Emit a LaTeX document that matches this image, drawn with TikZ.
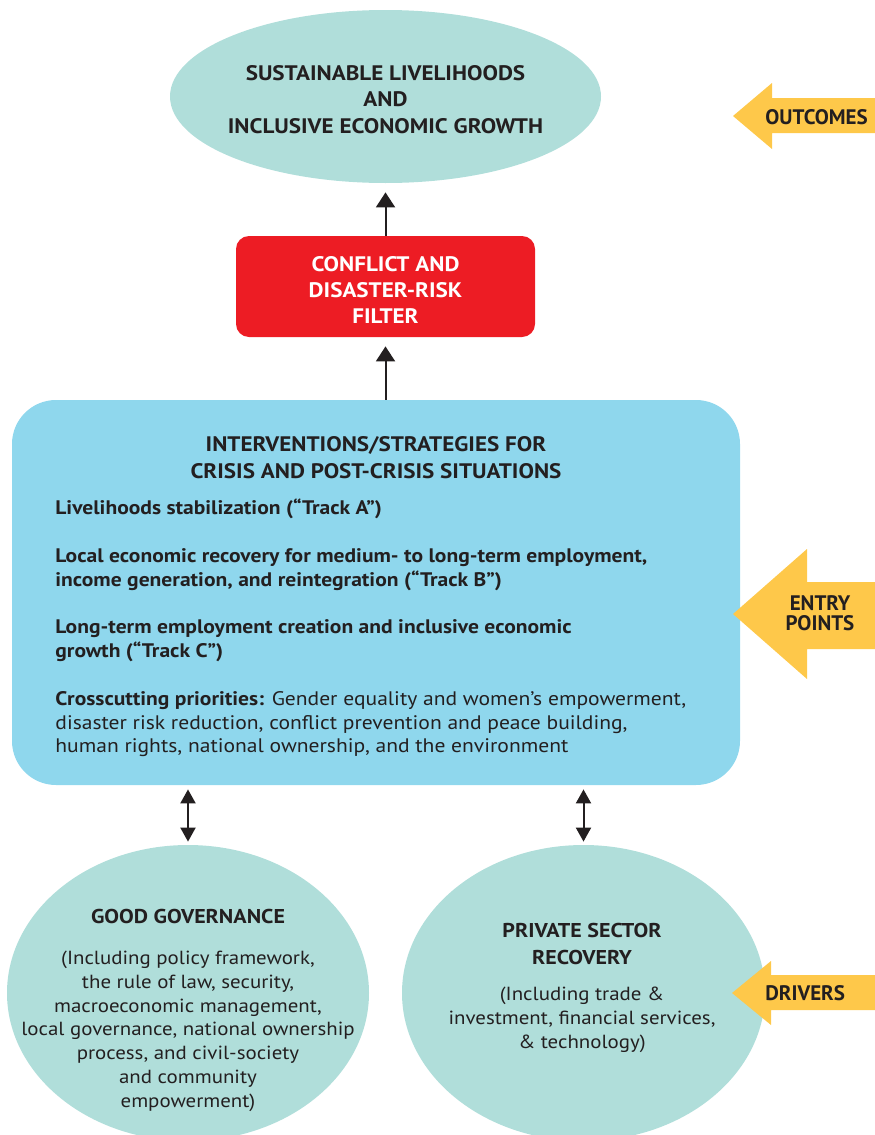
\documentclass[tikz,border=0pt]{standalone}
\usepackage{fontspec}
\setmainfont{PT Sans}[FakeStretch=1.1]
\newfontfamily\tagfont{PT Sans}
\usetikzlibrary{shapes.geometric,arrows.meta}
\definecolor{ink}{RGB}{35,31,32}
\definecolor{bubbleteal}{RGB}{176,222,218}
\definecolor{stratblue}{RGB}{143,215,237}
\definecolor{filterred}{RGB}{237,28,36}
\definecolor{pointeramber}{RGB}{254,200,74}
\begin{document}
\begin{tikzpicture}
    [x=0.5pt, y=-0.5pt,
      every node/.style={inner sep=0pt, text=ink, align=center},
      head/.style={font=\fontsize{10.5}{13.1}\selectfont\bfseries},
      body/.style={font=\fontsize{9.5}{11.85}\selectfont},
      bubble/.style={ellipse, fill=bubbleteal},
      link/.style={line width=1pt, draw=ink, shorten >=4.5pt,
        -{Triangle[width=9.5pt,length=7.5pt]}},
      twoway/.style={line width=1pt, draw=ink, shorten <=2pt, shorten >=1.5pt,
        {Triangle[width=7.5pt,length=7pt]}-{Triangle[width=7.5pt,length=7pt]}},
      pointer/.style={fill=pointeramber},
      tag/.style={font=\tagfont\fontsize{10.5}{10}\selectfont\bfseries}]
    \useasboundingbox (0,0) rectangle (874,1135);
    \node[bubble, minimum width=215.5pt, minimum height=86.5pt] (outcome) at (385.5,96.5) {};
    \node[head] (outcomeText) at (385.5,99.5)
      {SUSTAINABLE LIVELIHOODS\\AND\\INCLUSIVE ECONOMIC GROWTH};
    \node[fill=filterred, rounded corners=6.5pt, minimum width=149.5pt, minimum height=50.5pt]
      (filter) at (385.5,286.5) {};
    \node[head, text=white] (filterText) at (385.5,290)
      {CONFLICT AND\\DISASTER-RISK\\FILTER};
    \node[fill=stratblue, rounded corners=22pt, minimum width=364pt, minimum height=192.5pt]
      (strategies) at (376,592.5) {};
    \node[head, font=\fontsize{10.5}{13.5}\selectfont\bfseries] (stratTitle) at (376,457.5)
      {INTERVENTIONS/STRATEGIES FOR\\CRISIS AND POST-CRISIS SITUATIONS};
    \node[body, font=\fontsize{9.8}{11.85}\selectfont, align=left, anchor=west] (tracks) at (55,628)
      {\textbf{Livelihoods stabilization (“Track A”)}\\[12pt]
       \textbf{Local economic recovery for medium- to long-term employment,}\\
       \textbf{income generation, and reintegration (“Track B”)}\\[12pt]
       \textbf{Long-term employment creation and inclusive economic}\\
       \textbf{growth (“Track C”)}\\[12pt]
       \textbf{Crosscutting priorities:} Gender equality and women’s empowerment,\\
       disaster risk reduction, conflict prevention and peace building,\\
       human rights, national ownership, and the environment};
    \node[bubble, minimum width=181pt, minimum height=148pt] (governance) at (188,993) {};
    \node[bubble, minimum width=181.5pt, minimum height=148pt] (privsector) at (583.5,993) {};
    \node[body] (governanceText) at (188,1010)
      {{\fontsize{10}{11.85}\selectfont\bfseries GOOD GOVERNANCE}\\[9pt]
       (Including policy framework,\\the rule of law, security,\\macroeconomic management,\\
       local governance, national ownership\\process, and civil-society\\
       and community\\empowerment)};
    \node[body, font=\fontsize{9.5}{12}\selectfont] (privsectorText) at (582,988)
      {{\fontsize{10}{12}\selectfont\bfseries PRIVATE SECTOR}\\[1.5pt]
       {\fontsize{10}{12}\selectfont\bfseries RECOVERY}\\[6pt]
       (Including trade \&\\investment, financial services,\\\& technology)};
    \draw[link] (filter.north) -- (outcome.south);
    \draw[link] (filter.south |- strategies.north) -- (filter.south);
    \draw[twoway] (governance.north |- strategies.south) -- (governance.north);
    \draw[twoway] (privsector.north |- strategies.south) -- (privsector.north);
    \fill[pointer] (880,98) -- (772,98) -- (772,83) -- (733,116) -- (772,149) -- (772,133) -- (880,133) -- cycle;
    \fill[pointer] (880,582) -- (807,582) -- (807,549) -- (733,614) -- (807,679) -- (807,649) -- (880,649) -- cycle;
    \fill[pointer] (880,975) -- (771,975) -- (771,961) -- (732,993) -- (771,1025) -- (771,1010) -- (880,1010) -- cycle;
    \node[tag, anchor=west] (outcomesTag) at (765,117) {OUTCOMES};
    \node[tag] (entryTag) at (820,613) {ENTRY\\POINTS};
    \node[tag, anchor=west] (driversTag) at (765,993) {DRIVERS};
\end{tikzpicture}
\end{document}
